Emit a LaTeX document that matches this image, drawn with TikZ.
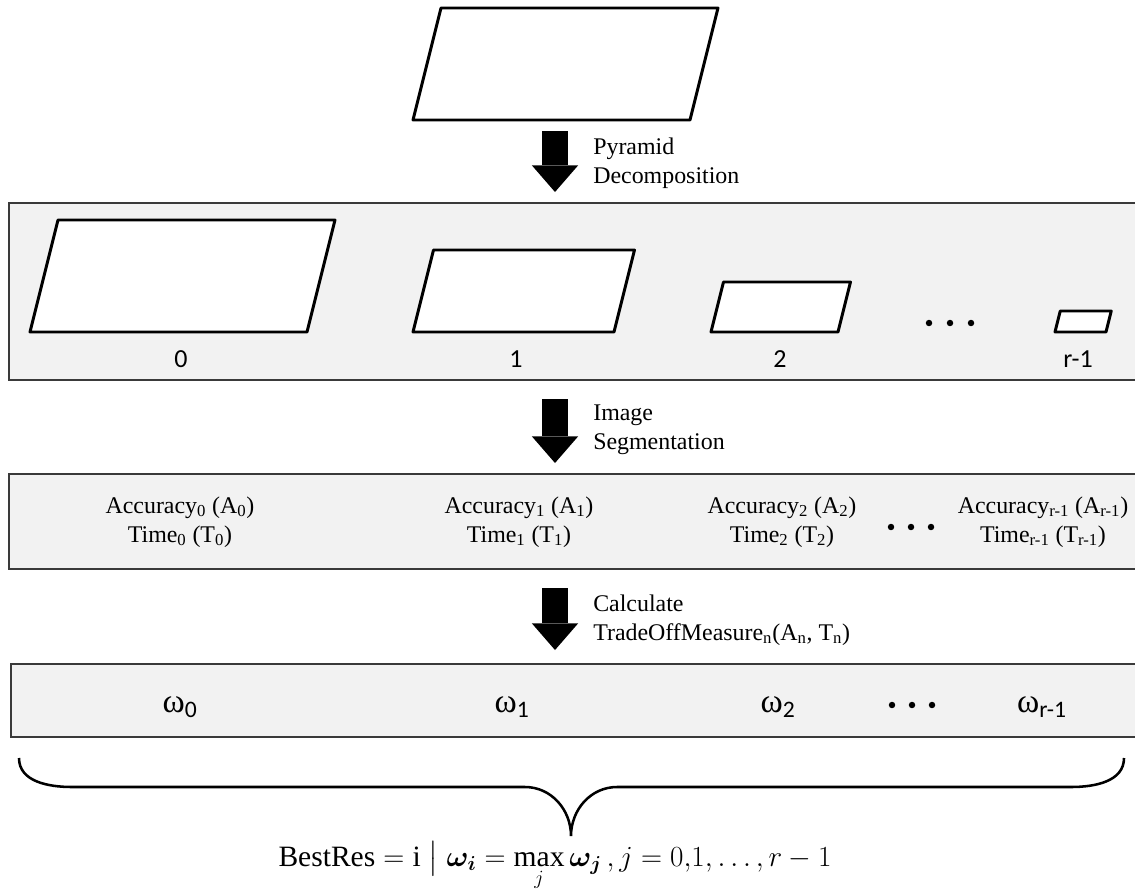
\documentclass[tikz,border=0pt]{standalone}
\usepackage{amsmath,bm}
\usepackage{fontspec}
\setmainfont{Liberation Serif}
\newfontfamily\calfont{Carlito}
\usetikzlibrary{positioning,calc,arrows.meta}
\definecolor{panelgray}{HTML}{F2F2F2}
\definecolor{edgegray}{HTML}{3A3A3A}
\tikzset{
  panel/.style   = {draw=edgegray, fill=panelgray, line width=1.5pt},
  pgram/.style   = {draw, fill=white, line width=2.1pt, line join=round},
  bigarr/.style  = {line width=19pt, -{Triangle[length=19pt, width=33pt, line width=0pt]}},
  steplbl/.style = {font=\fontsize{17}{20.6}\selectfont, align=left, anchor=base west,
                    inner sep=0pt},
  reslbl/.style  = {font=\calfont\fontsize{18.5}{21}\selectfont, inner sep=0pt, anchor=base},
  metric/.style  = {font=\fontsize{17}{20.6}\selectfont, align=center, inner sep=0pt},
  wlbl/.style    = {font=\fontsize{24}{26}\selectfont, inner sep=0pt, anchor=base},
  brace/.style   = {line width=1.8pt},
  bdot/.style    = {circle, fill=black, inner sep=0pt, minimum size=4.6pt},
}
% parallelogram: name, bottom-left x, bottom y, width, height
\newcommand{\pyr}[5]{%
  \draw[pgram] (#2,#3) -- ++(#4,0) -- ++(#5/4,-#5) -- ++(-#4,0) -- cycle;
  \coordinate (#1) at ({#2+#4/2+#5/8},{#3-#5/2});}
\newcommand{\sub}[1]{\textsubscript{#1}}

\begin{document}
\begin{tikzpicture}[x=0.025cm, y=-0.025cm]
  \useasboundingbox (0,0) rectangle (1135,895);
  % input image
  \pyr{img}{413}{120}{277}{112}
  \coordinate (a1s) at (555,131);
  \coordinate (a1e) at (555,192);
  \draw[bigarr] (a1s) -- (a1e);
  \node[steplbl] (pyrlbl) at (593,183) {Pyramid\\Decomposition};

  % pyramid levels
  \draw[panel] (9,203) rectangle (1145,380);
  \pyr{lv0}{30}{332}{277}{112}
  \pyr{lv1}{413}{332}{201}{82}
  \pyr{lv2}{711}{332}{127}{50}
  \pyr{lv3}{1055}{332}{51}{21}
  \node[reslbl] (n0) at (181,367) {0};
  \node[reslbl] (n1) at (516,367) {1};
  \node[reslbl] (n2) at (780,367) {2};
  \node[reslbl] (n3) at (1078,367) {r-1};
  \foreach \dx in {929,950,971} \node[bdot] at (\dx,323) {};

  \coordinate (a2s) at (555,399);
  \coordinate (a2e) at (555,463);
  \draw[bigarr] (a2s) -- (a2e);
  \node[steplbl] (seglbl) at (593,449) {Image\\Segmentation};

  % segmentation results
  \draw[panel] (9,474) rectangle (1145,569);
  \node[metric] (m0) at (180,522) {Accuracy\sub{0} (A\sub{0})\\Time\sub{0} (T\sub{0})};
  \node[metric] (m1) at (519,522) {Accuracy\sub{1} (A\sub{1})\\Time\sub{1} (T\sub{1})};
  \node[metric] (m2) at (782,522) {Accuracy\sub{2} (A\sub{2})\\Time\sub{2} (T\sub{2})};
  \node[metric] (m3) at (1043,522) {Accuracy\sub{r-1} (A\sub{r-1})\\Time\sub{r-1} (T\sub{r-1})};
  \foreach \dx in {891,911,931} \node[bdot] at (\dx,527) {};

  \coordinate (a3s) at (555,588);
  \coordinate (a3e) at (555,650);
  \draw[bigarr] (a3s) -- (a3e);
  \node[steplbl] (tolbl) at (593,640) {Calculate\\TradeOffMeasure\sub{n}(A\sub{n}, T\sub{n})};

  % trade-off measures
  \draw[panel] (11,664) rectangle (1145,737);
  \node[wlbl] (w0) at (180,712) {ω{\calfont\sub{0}}};
  \node[wlbl] (w1) at (512,712) {ω{\calfont\sub{1}}};
  \node[wlbl] (w2) at (778,712) {ω{\calfont\sub{2}}};
  \node[wlbl] (w3) at (1042,712) {ω{\calfont\sub{r-1}}};
  \foreach \dx in {892,912,932} \node[bdot] at (\dx,705) {};

  % selection
  \draw[brace] (19,758) to[out=-90,in=180] (72,787) -- (525,787)
    to[out=0,in=90] (571,836) to[out=90,in=180] (617,787) -- (1071,787)
    to[out=0,in=-90] (1124,758);
  \node[font=\fontsize{21}{25}\selectfont, anchor=base] (best) at (555,866)
    {$\mathrm{BestRes}=\mathrm{i}\;\big|\;\bm{\omega_i}=\max\limits_{j}\bm{\omega_j}\,,j=0{,}1,\dots,r-1$};
\end{tikzpicture}
\end{document}
